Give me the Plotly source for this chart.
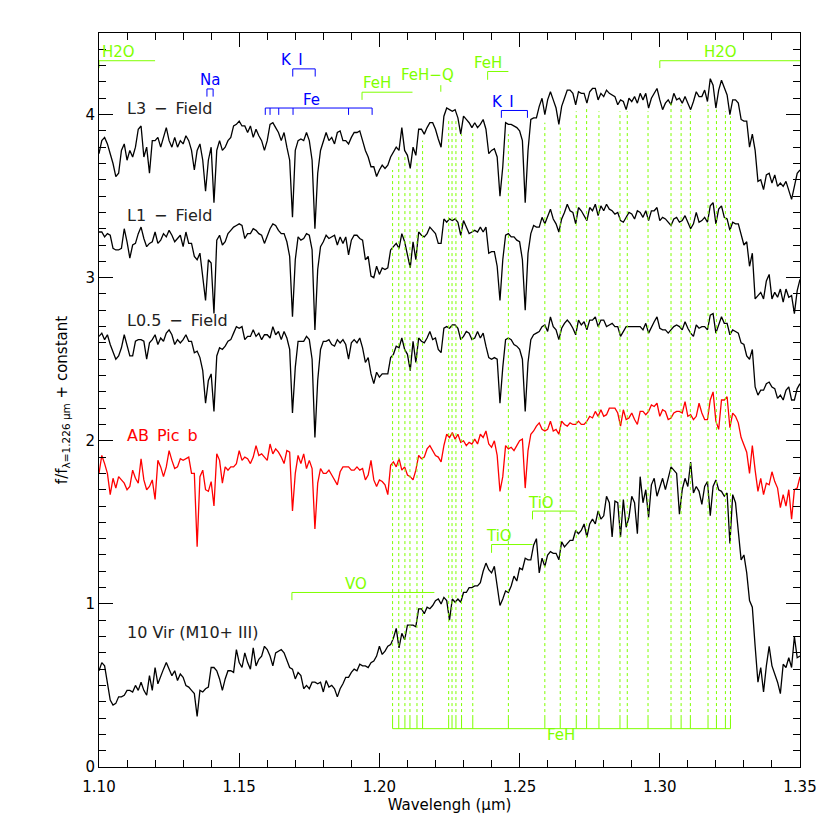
import numpy as np
import plotly.graph_objects as go

# wavelength grid of the spectra (micron)
wave = np.round(np.arange(1.100, 1.3505, 0.001), 3)

l3_field = [
    3.76, 3.84, 3.86, 3.82, 3.76, 3.70, 3.62, 3.64, 3.78, 3.82,
    3.72, 3.78, 3.74, 3.80, 3.91, 3.93, 3.74, 3.80, 3.64, 3.84,
    3.84, 3.86, 3.80, 3.86, 3.92, 3.84, 3.80, 3.86, 3.80, 3.84,
    3.82, 3.87, 3.84, 3.78, 3.66, 3.78, 3.82, 3.72, 3.53, 3.72,
    3.80, 3.46, 3.78, 3.84, 3.78, 3.80, 3.84, 3.86, 3.93, 3.94,
    3.96, 3.93, 3.93, 3.89, 3.93, 3.86, 3.91, 3.87, 3.84, 3.78,
    3.84, 3.94, 3.95, 3.92, 3.89, 3.84, 3.89, 3.80, 3.72, 3.37,
    3.78, 3.84, 3.85, 3.84, 3.89, 3.84, 3.72, 3.30, 3.64, 3.78,
    3.84, 3.89, 3.84, 3.86, 3.82, 3.89, 3.90, 3.84, 3.84, 3.82,
    3.86, 3.89, 3.89, 3.90, 3.84, 3.78, 3.74, 3.68, 3.68, 3.62,
    3.66, 3.69, 3.67, 3.69, 3.74, 3.77, 3.80, 3.78, 3.92, 3.78,
    3.75, 3.67, 3.80, 3.75, 3.91, 3.91, 3.88, 3.92, 3.95, 3.95,
    3.91, 3.85, 3.80, 3.99, 4.04, 4.03, 4.02, 4.03, 3.98, 3.88,
    3.99, 3.97, 3.95, 3.92, 3.95, 3.92, 3.94, 3.97, 3.91, 3.76,
    3.78, 3.79, 3.74, 3.50, 3.68, 3.95, 3.94, 3.94, 3.93, 3.92,
    3.90, 3.84, 3.46, 3.78, 3.97, 3.98, 3.98, 4.05, 4.10, 4.00,
    4.09, 4.14, 4.09, 4.04, 3.94, 4.05, 4.10, 4.15, 4.15, 4.13,
    4.06, 4.14, 4.13, 4.13, 4.07, 4.14, 4.16, 4.16, 4.09, 4.13,
    4.11, 4.15, 4.13, 4.12, 4.11, 4.06, 4.09, 4.08, 4.03, 4.10,
    4.08, 4.11, 4.07, 4.13, 4.09, 4.13, 4.04, 4.10, 4.13, 4.16,
    4.09, 4.03, 4.07, 4.09, 4.06, 4.13, 4.09, 4.10, 4.07, 4.11,
    4.07, 4.03, 4.08, 4.14, 4.11, 4.11, 4.15, 4.08, 4.22, 4.18,
    4.04, 4.15, 4.21, 4.17, 4.12, 4.00, 4.09, 4.09, 4.07, 3.97,
    3.96, 3.96, 3.80, 3.88, 3.78, 3.59, 3.60, 3.54, 3.63, 3.64,
    3.58, 3.63, 3.56, 3.58, 3.56, 3.59, 3.54, 3.48, 3.56, 3.64, 3.66,
]

l1_field = [
    3.28, 3.28, 3.25, 3.27, 3.26, 3.18, 3.17, 3.17, 3.18, 3.30,
    3.22, 3.12, 3.20, 3.21, 3.27, 3.31, 3.24, 3.19, 3.21, 3.22,
    3.28, 3.21, 3.23, 3.27, 3.25, 3.29, 3.26, 3.22, 3.24, 3.26,
    3.19, 3.28, 3.21, 3.21, 3.13, 3.11, 3.15, 3.01, 2.86, 3.11,
    3.09, 2.78, 3.23, 3.26, 3.20, 3.22, 3.27, 3.29, 3.31, 3.32,
    3.33, 3.32, 3.24, 3.27, 3.27, 3.30, 3.29, 3.27, 3.26, 3.21,
    3.26, 3.30, 3.33, 3.32, 3.29, 3.27, 3.27, 3.22, 3.13, 2.76,
    3.11, 3.25, 3.23, 3.24, 3.27, 3.26, 3.17, 2.68, 3.05, 3.19,
    3.22, 3.26, 3.24, 3.25, 3.26, 3.20, 3.25, 3.21, 3.25, 3.14,
    3.23, 3.26, 3.26, 3.24, 3.23, 3.11, 3.13, 3.01, 3.00, 3.07,
    3.02, 3.06, 3.05, 3.06, 3.17, 3.19, 3.21, 3.18, 3.27, 3.22,
    3.13, 3.06, 3.22, 3.11, 3.28, 3.26, 3.25, 3.27, 3.31, 3.29,
    3.27, 3.21, 3.21, 3.36, 3.34, 3.36, 3.35, 3.36, 3.34, 3.26,
    3.35, 3.31, 3.27, 3.28, 3.29, 3.28, 3.31, 3.28, 3.31, 3.15,
    3.16, 3.16, 3.07, 2.86, 3.11, 3.26, 3.27, 3.25, 3.25, 3.23,
    3.22, 3.11, 2.80, 3.15, 3.27, 3.32, 3.31, 3.31, 3.37, 3.33,
    3.38, 3.42, 3.36, 3.33, 3.28, 3.36, 3.40, 3.45, 3.41, 3.40,
    3.33, 3.43, 3.41, 3.38, 3.35, 3.43, 3.41, 3.45, 3.38, 3.44,
    3.41, 3.45, 3.42, 3.41, 3.39, 3.40, 3.35, 3.34, 3.37, 3.40,
    3.39, 3.36, 3.41, 3.40, 3.37, 3.41, 3.35, 3.41, 3.41, 3.43,
    3.35, 3.37, 3.36, 3.34, 3.32, 3.36, 3.37, 3.34, 3.35, 3.38,
    3.34, 3.30, 3.33, 3.40, 3.34, 3.35, 3.37, 3.34, 3.44, 3.46,
    3.33, 3.42, 3.44, 3.37, 3.36, 3.29, 3.34, 3.33, 3.33, 3.26,
    3.20, 3.22, 3.07, 3.15, 2.87, 2.89, 2.91, 2.87, 2.98, 3.02,
    2.87, 2.91, 2.88, 2.93, 2.85, 2.93, 2.88, 2.89, 2.78, 2.92, 2.99,
]

l05_field = [
    2.64, 2.66, 2.62, 2.65, 2.59, 2.55, 2.50, 2.52, 2.57, 2.65,
    2.58, 2.52, 2.52, 2.61, 2.62, 2.62, 2.61, 2.50, 2.60, 2.62,
    2.65, 2.59, 2.63, 2.61, 2.66, 2.68, 2.65, 2.59, 2.62, 2.60,
    2.62, 2.65, 2.61, 2.61, 2.54, 2.55, 2.51, 2.43, 2.23, 2.37,
    2.41, 2.18, 2.52, 2.57, 2.56, 2.58, 2.61, 2.62, 2.66, 2.70,
    2.69, 2.70, 2.62, 2.64, 2.64, 2.68, 2.64, 2.66, 2.62, 2.65,
    2.65, 2.63, 2.70, 2.65, 2.67, 2.62, 2.67, 2.63, 2.56, 2.17,
    2.45, 2.61, 2.61, 2.61, 2.64, 2.62, 2.50, 2.02, 2.37, 2.56,
    2.61, 2.61, 2.62, 2.59, 2.58, 2.62, 2.60, 2.62, 2.59, 2.50,
    2.60, 2.62, 2.60, 2.63, 2.57, 2.48, 2.51, 2.41, 2.35, 2.42,
    2.39, 2.41, 2.41, 2.41, 2.51, 2.53, 2.58, 2.57, 2.63, 2.56,
    2.53, 2.43, 2.61, 2.48, 2.63, 2.61, 2.60, 2.63, 2.67, 2.62,
    2.63, 2.56, 2.54, 2.69, 2.70, 2.69, 2.71, 2.71, 2.69, 2.62,
    2.64, 2.67, 2.66, 2.62, 2.63, 2.67, 2.63, 2.66, 2.58, 2.51,
    2.50, 2.51, 2.50, 2.23, 2.45, 2.62, 2.63, 2.62, 2.59, 2.58,
    2.56, 2.50, 2.18, 2.48, 2.62, 2.65, 2.66, 2.67, 2.70, 2.71,
    2.67, 2.76, 2.70, 2.68, 2.62, 2.69, 2.72, 2.74, 2.72, 2.69,
    2.65, 2.74, 2.71, 2.73, 2.68, 2.74, 2.74, 2.76, 2.70, 2.74,
    2.74, 2.70, 2.71, 2.72, 2.70, 2.70, 2.64, 2.67, 2.70, 2.70,
    2.70, 2.70, 2.70, 2.70, 2.68, 2.72, 2.66, 2.70, 2.73, 2.76,
    2.69, 2.68, 2.68, 2.66, 2.68, 2.70, 2.71, 2.70, 2.68, 2.73,
    2.69, 2.66, 2.64, 2.71, 2.69, 2.70, 2.70, 2.68, 2.77, 2.78,
    2.66, 2.71, 2.76, 2.72, 2.72, 2.65, 2.68, 2.67, 2.66, 2.60,
    2.59, 2.52, 2.50, 2.56, 2.33, 2.28, 2.31, 2.31, 2.35, 2.36,
    2.33, 2.32, 2.26, 2.28, 2.25, 2.31, 2.33, 2.25, 2.25, 2.32, 2.35,
]

ab_pic_b = [
    1.80, 1.91, 1.86, 1.80, 1.67, 1.77, 1.71, 1.78, 1.76, 1.74,
    1.70, 1.72, 1.82, 1.77, 1.74, 1.89, 1.76, 1.70, 1.72, 1.76,
    1.64, 1.88, 1.84, 1.78, 1.84, 1.94, 1.88, 1.83, 1.84, 1.89,
    1.88, 1.89, 1.90, 1.80, 1.80, 1.35, 1.78, 1.82, 1.70, 1.69,
    1.75, 1.60, 1.92, 1.88, 1.74, 1.84, 1.82, 1.84, 1.84, 1.86,
    1.94, 1.88, 1.90, 1.89, 1.86, 1.90, 1.97, 1.91, 1.92, 1.90,
    1.88, 1.98, 1.92, 1.95, 1.93, 1.90, 1.86, 1.94, 1.93, 1.57,
    1.80, 1.91, 1.86, 1.92, 1.83, 1.88, 1.83, 1.46, 1.74, 1.83,
    1.80, 1.80, 1.82, 1.79, 1.76, 1.73, 1.81, 1.84, 1.84, 1.84,
    1.82, 1.82, 1.84, 1.82, 1.83, 1.76, 1.79, 1.88, 1.76, 1.72,
    1.76, 1.75, 1.73, 1.67, 1.85, 1.87, 1.84, 1.89, 1.82, 1.84,
    1.79, 1.78, 1.76, 1.82, 1.91, 1.89, 1.90, 1.95, 1.97, 1.94,
    1.91, 1.90, 1.87, 1.97, 2.04, 2.02, 2.05, 2.01, 2.04, 1.99,
    2.00, 1.97, 1.99, 1.98, 2.01, 1.98, 2.04, 2.02, 2.06, 1.98,
    1.96, 2.00, 1.91, 1.69, 1.78, 1.97, 1.95, 1.96, 1.94, 1.97,
    2.00, 2.01, 1.71, 1.94, 2.04, 2.06, 2.09, 2.11, 2.07, 2.06,
    2.07, 2.12, 2.06, 2.07, 2.04, 2.12, 2.10, 2.09, 2.11, 2.10,
    2.10, 2.12, 2.10, 2.10, 2.12, 2.15, 2.14, 2.18, 2.15, 2.19,
    2.15, 2.16, 2.20, 2.20, 2.20, 2.17, 2.09, 2.19, 2.13, 2.14,
    2.17, 2.13, 2.10, 2.18, 2.18, 2.16, 2.18, 2.22, 2.21, 2.23,
    2.15, 2.19, 2.18, 2.13, 2.14, 2.17, 2.18, 2.18, 2.17, 2.24,
    2.15, 2.16, 2.13, 2.15, 2.23, 2.17, 2.13, 2.13, 2.25, 2.30,
    2.12, 2.07, 2.25, 2.25, 2.27, 2.08, 2.17, 2.15, 2.11, 2.02,
    1.97, 1.93, 1.80, 1.97, 1.82, 1.69, 1.77, 1.67, 1.74, 1.73,
    1.81, 1.75, 1.71, 1.59, 1.67, 1.60, 1.70, 1.52, 1.70, 1.71, 1.78,
]

vir10 = [
    0.59, 0.64, 0.62, 0.52, 0.41, 0.38, 0.39, 0.43, 0.43, 0.44,
    0.47, 0.47, 0.46, 0.50, 0.47, 0.52, 0.47, 0.44, 0.56, 0.47,
    0.61, 0.51, 0.56, 0.60, 0.64, 0.60, 0.56, 0.59, 0.53, 0.57,
    0.55, 0.50, 0.49, 0.47, 0.45, 0.31, 0.47, 0.46, 0.48, 0.49,
    0.61, 0.61, 0.59, 0.54, 0.47, 0.54, 0.59, 0.59, 0.58, 0.72,
    0.64, 0.61, 0.70, 0.64, 0.60, 0.73, 0.62, 0.66, 0.68, 0.74,
    0.72, 0.68, 0.62, 0.70, 0.71, 0.72, 0.70, 0.66, 0.61, 0.60,
    0.54, 0.58, 0.56, 0.48, 0.50, 0.48, 0.52, 0.52, 0.51, 0.52,
    0.46, 0.53, 0.49, 0.50, 0.48, 0.43, 0.48, 0.51, 0.55, 0.55,
    0.58, 0.60, 0.59, 0.63, 0.62, 0.62, 0.61, 0.64, 0.65, 0.68,
    0.74, 0.69, 0.71, 0.74, 0.75, 0.79, 0.85, 0.73, 0.82, 0.78,
    0.87, 0.87, 0.87, 0.86, 0.97, 0.97, 0.94, 0.98, 0.97, 0.99,
    1.02, 1.03, 1.00, 1.04, 1.02, 0.90, 1.03, 1.01, 1.03, 1.01,
    1.07, 1.07, 1.10, 1.10, 1.11, 1.11, 1.13, 1.20, 1.25, 1.21,
    1.19, 1.23, 1.10, 0.99, 1.03, 1.08, 1.07, 1.11, 1.17, 1.14,
    1.22, 1.21, 1.28, 1.27, 1.27, 1.36, 1.40, 1.19, 1.28, 1.23,
    1.30, 1.32, 1.31, 1.31, 1.27, 1.38, 1.35, 1.37, 1.39, 1.39,
    1.45, 1.43, 1.45, 1.49, 1.41, 1.49, 1.52, 1.49, 1.57, 1.52,
    1.54, 1.66, 1.62, 1.41, 1.63, 1.62, 1.41, 1.64, 1.47, 1.53,
    1.66, 1.62, 1.43, 1.78, 1.62, 1.70, 1.53, 1.73, 1.77, 1.66,
    1.71, 1.77, 1.70, 1.78, 1.84, 1.82, 1.80, 1.55, 1.70, 1.77,
    1.72, 1.87, 1.68, 1.72, 1.69, 1.61, 1.72, 1.75, 1.54, 1.72,
    1.76, 1.70, 1.69, 1.66, 1.68, 1.37, 1.67, 1.62, 1.43, 1.27,
    1.30, 1.19, 1.02, 0.98, 0.74, 0.52, 0.61, 0.46, 0.62, 0.74,
    0.62, 0.57, 0.52, 0.45, 0.63, 0.61, 0.67, 0.61, 0.80, 0.67, 0.68,
]

# spectrum labels
labels = ["L3\u2002\u2212\u2002Field", "L1\u2002\u2212\u2002Field",
          "L0.5\u2002\u2212\u2002Field", "AB\u2002Pic\u2002b", "10 Vir (M10+ III)"]
label_y = [4.04, 3.38, 2.74, 2.035, 0.826]

# FeH lines along the bottom (micron) and the top of their dotted guides
feh_lines = [1.2047, 1.2069, 1.2091, 1.2109, 1.2134, 1.2154, 1.2247, 1.2259,
             1.2273, 1.2293, 1.2333, 1.2460, 1.2590, 1.2645, 1.2702, 1.2739,
             1.2783, 1.2858, 1.2884, 1.2958, 1.3040, 1.3076, 1.3109, 1.3172,
             1.3202, 1.3234, 1.3252]
feh_tops = [3.66, 3.74, 3.74, 3.64, 3.72, 3.84, 3.96, 3.96,
            3.96, 3.88, 3.90, 3.88, 3.95, 3.92, 4.02, 4.05,
            4.02, 4.02, 4.02, 4.02, 4.07, 4.06, 4.02, 4.06,
            4.03, 4.02, 3.99]

GREEN = "#7fff00"
BLUE = "#0000ff"
FONT = "DejaVu Sans, Verdana, sans-serif"

fig = go.Figure()

fig.add_trace(go.Scatter(x=wave, y=l3_field, mode="lines", line=dict(color="black", width=1.3)))
fig.add_trace(go.Scatter(x=wave, y=l1_field, mode="lines", line=dict(color="black", width=1.3)))
fig.add_trace(go.Scatter(x=wave, y=l05_field, mode="lines", line=dict(color="black", width=1.3)))
fig.add_trace(go.Scatter(x=wave, y=ab_pic_b, mode="lines", line=dict(color="red", width=1.3)))
fig.add_trace(go.Scatter(x=wave, y=vir10, mode="lines", line=dict(color="black", width=1.3)))


def bracket(x0, x1, y, ticks, drop):
    xs, ys = [x0, x1, None], [y, y, None]
    for t in ticks:
        xs += [t, t, None]
        ys += [y, y - drop, None]
    return xs, ys


# dotted FeH guides + solid ticks and baseline
dx, dy = [], []
for w, top in zip(feh_lines, feh_tops):
    dx += [w, w, None]
    dy += [0.30, top, None]
fig.add_trace(go.Scatter(x=dx, y=dy, mode="lines", line=dict(color=GREEN, width=1, dash="dot")))
bx, by = bracket(feh_lines[0], feh_lines[-1], 0.235, feh_lines, -0.065)
fig.add_trace(go.Scatter(x=bx, y=by, mode="lines", line=dict(color=GREEN, width=1)))

# band / line markers
green_marks = [
    # text, text x, text y, line start, line end, line y, tick positions, tick drop, anchor
    ("H2O", 1.1004, 4.385, 1.100, 1.120, 4.33, [1.100], 0.045, "left"),
    ("H2O", 1.3217, 4.385, 1.300, 1.350, 4.33, [1.300], 0.045, "center"),
    ("FeH", 1.1993, 4.195, 1.1938, 1.2118, 4.137, [1.1938], 0.047, "center"),
    ("FeH", 1.2388, 4.317, 1.2386, 1.2460, 4.264, [1.2386], 0.051, "center"),
    ("VO", 1.1918, 1.12, 1.1688, 1.2196, 1.07, [1.1688], 0.047, "center"),
    ("TiO", 1.2427, 1.415, 1.2400, 1.2546, 1.364, [1.2400], 0.051, "center"),
    ("TiO", 1.2575, 1.62, 1.2546, 1.2700, 1.569, [1.2546], 0.051, "center"),
]
blue_marks = [
    ("Na", 1.1395, 4.21, 1.1385, 1.1407, 4.157, [1.1385, 1.1407], 0.047, "center"),
    ("K\u2002I", 1.1690, 4.335, 1.1691, 1.1771, 4.28, [1.1691, 1.1771], 0.047, "center"),
    ("Fe", 1.1758, 4.09, 1.1593, 1.1974, 4.04,
     [1.1593, 1.1610, 1.1641, 1.1692, 1.1890, 1.1974], 0.042, "center"),
    ("K\u2002I", 1.2440, 4.08, 1.2435, 1.2528, 4.025, [1.2435, 1.2528], 0.045, "center"),
]

for marks, col in [(green_marks, GREEN), (blue_marks, BLUE)]:
    for text, tx, ty, x0, x1, y, ticks, drop, anchor in marks:
        xs, ys = bracket(x0, x1, y, ticks, drop)
        fig.add_trace(go.Scatter(x=xs, y=ys, mode="lines", line=dict(color=col, width=1)))
        fig.add_annotation(x=tx, y=ty, text=text, showarrow=False, xanchor=anchor,
                           font=dict(color=col, size=15))

# FeH-Q marker
fig.add_trace(go.Scatter(x=[1.2219, 1.2219], y=[4.14, 4.18], mode="lines",
                         line=dict(color=GREEN, width=1)))
fig.add_annotation(x=1.2171, y=4.243, text="FeH\u2212Q", showarrow=False,
                   font=dict(color=GREEN, size=15))
fig.add_annotation(x=1.2648, y=0.195, text="FeH", showarrow=False,
                   font=dict(color=GREEN, size=15))

label_cols = ["#222222", "#222222", "#222222", "red", "#222222"]
for text, y, col in zip(labels, label_y, label_cols):
    fig.add_annotation(x=1.1093, y=y, text=text, showarrow=False, xanchor="left",
                       font=dict(color=col, size=16))

# page body adds an 8 px offset, so the figure is 8 px smaller and margins shifted
fig.update_layout(
    width=822, height=822,
    margin=dict(l=91, r=30, t=25, b=63, autoexpand=False),
    plot_bgcolor="white", paper_bgcolor="white",
    showlegend=False,
    font=dict(family=FONT, size=15, color="black"),
)
fig.update_xaxes(
    range=[1.10, 1.35], tickvals=[1.10, 1.15, 1.20, 1.25, 1.30, 1.35],
    ticktext=["1.10", "1.15", "1.20", "1.25", "1.30", "1.35"],
    ticks="inside", ticklen=14, tickcolor="black", tickwidth=1, ticklabelstandoff=6,
    minor=dict(tick0=1.10, dtick=0.01, ticks="inside", ticklen=7, tickcolor="black"),
    showline=True, linecolor="black", linewidth=1, mirror="ticks",
    showgrid=False, zeroline=False, automargin=False,
    title=dict(text="Wavelengh (\u03bcm)", standoff=2, font=dict(size=15)),
)
fig.update_yaxes(
    range=[0, 4.5], tickvals=[0, 1, 2, 3, 4],
    ticks="inside", ticklen=14, tickcolor="black", tickwidth=1,
    minor=dict(tick0=0, dtick=0.1, ticks="inside", ticklen=7, tickcolor="black"),
    showline=True, linecolor="black", linewidth=1, mirror="ticks",
    showgrid=False, zeroline=False, automargin=False,
    title=dict(text="f/f<sub>\u03bb=1.226 \u03bcm</sub> + constant", standoff=14,
               font=dict(size=15)),
)

fig.write_html("out.html")
